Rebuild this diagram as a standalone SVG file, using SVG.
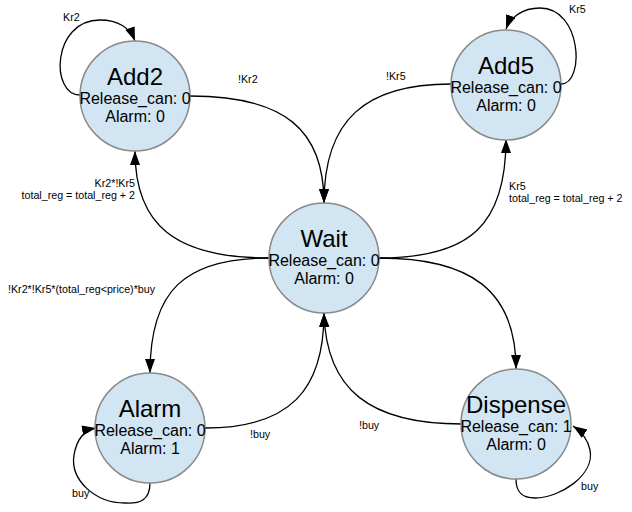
<svg xmlns="http://www.w3.org/2000/svg" width="632" height="512" viewBox="0 0 632 512">
<style>
.st{fill:#d1e5f3;stroke:#8a8a8a;stroke-width:1.5}
.t{font-family:"Liberation Sans",Arial,sans-serif;fill:#000;text-anchor:middle}
.ti{font-size:24px}
.ln{font-size:16px}
.e{fill:none;stroke:#000;stroke-width:1.3}
.lb{font-family:"Liberation Sans",Arial,sans-serif;font-size:10.7px;fill:#000}
</style>
<defs>
<marker id="ah" markerUnits="userSpaceOnUse" markerWidth="15" markerHeight="11" refX="14" refY="5" orient="auto">
<path d="M0,0 L14,5 L0,10 z" fill="#000"/>
</marker>
</defs>
<rect width="632" height="512" fill="#fff"/>
<g id="connectors">
<path class="e" marker-end="url(#ah)" d="M80,95 C50,95 52,20 100,20 C118,20 130,28 135,41"/>
<path class="e" marker-end="url(#ah)" d="M190,96 C285,96 324,130 324,203"/>
<path class="e" marker-end="url(#ah)" d="M451,84 C365,84 324,120 324,203"/>
<path class="e" marker-end="url(#ah)" d="M561,84 C585,84 582,8 540,8 C522,8 510,18 506,29"/>
<path class="e" marker-end="url(#ah)" d="M269,258 C175,258 135,225 135,151"/>
<path class="e" marker-end="url(#ah)" d="M379,258 C470,258 506,225 506,139"/>
<path class="e" marker-end="url(#ah)" d="M269,258 C185,258 150,290 150,373"/>
<path class="e" marker-end="url(#ah)" d="M379,258 C470,258 516,290 516,369"/>
<path class="e" marker-end="url(#ah)" d="M205,428 C290,428 324,390 324,313"/>
<path class="e" marker-end="url(#ah)" d="M462,424 C370,424 326,390 324,313"/>
<path class="e" marker-end="url(#ah)" d="M150,483 C150,500 140,504 125,503 C95,503 70,480 74,455 C77,438 85,430 96,428"/>
<path class="e" marker-end="url(#ah)" d="M516,479 C516,490 520,498 535,498 C560,498 595,475 590,450 C588,440 582,432 573,426"/>
<text class="lb" x="63" y="21">Kr2</text>
<text class="lb" x="238" y="83">!Kr2</text>
<text class="lb" x="386" y="80">!Kr5</text>
<text class="lb" x="569" y="13">Kr5</text>
<text class="lb" x="135" y="187" text-anchor="end">Kr2*!Kr5</text>
<text class="lb" x="135" y="199" text-anchor="end">total_reg = total_reg + 2</text>
<text class="lb" x="509" y="190">Kr5</text>
<text class="lb" x="509" y="202">total_reg = total_reg + 2</text>
<text class="lb" x="8" y="293">!Kr2*!Kr5*(total_reg&lt;price)*buy</text>
<text class="lb" x="250" y="438">!buy</text>
<text class="lb" x="359" y="429">!buy</text>
<text class="lb" x="72" y="497">buy</text>
<text class="lb" x="581" y="490">buy</text>
</g>
<g id="add2">
<circle class="st" cx="135" cy="96" r="55"/>
<text class="t ti" x="135" y="85">Add2</text>
<text class="t ln" x="135" y="104">Release_can: 0</text>
<text class="t ln" x="135" y="122">Alarm: 0</text>
</g>
<g id="add5">
<circle class="st" cx="506" cy="85" r="55"/>
<text class="t ti" x="506" y="74">Add5</text>
<text class="t ln" x="506" y="93">Release_can: 0</text>
<text class="t ln" x="506" y="111">Alarm: 0</text>
</g>
<g id="wait">
<circle class="st" cx="324" cy="258" r="55"/>
<text class="t ti" x="324" y="247">Wait</text>
<text class="t ln" x="324" y="266">Release_can: 0</text>
<text class="t ln" x="324" y="284">Alarm: 0</text>
</g>
<g id="alarm">
<circle class="st" cx="150" cy="428" r="55"/>
<text class="t ti" x="150" y="417">Alarm</text>
<text class="t ln" x="150" y="436">Release_can: 0</text>
<text class="t ln" x="150" y="454">Alarm: 1</text>
</g>
<g id="dispense">
<circle class="st" cx="516" cy="424" r="55"/>
<text class="t ti" x="516" y="413">Dispense</text>
<text class="t ln" x="516" y="432">Release_can: 1</text>
<text class="t ln" x="516" y="450">Alarm: 0</text>
</g>
</svg>
